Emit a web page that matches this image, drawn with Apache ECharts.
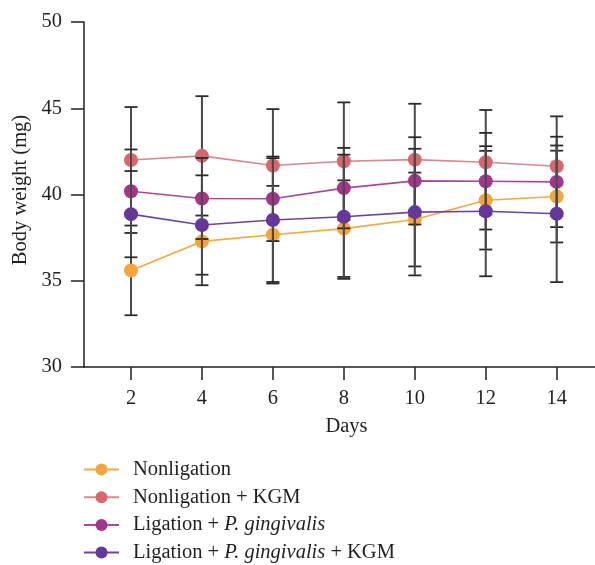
<!DOCTYPE html>
<html>
<head>
<meta charset="utf-8">
<script src="https://cdn.jsdelivr.net/npm/echarts@6/dist/echarts.min.js"></script>
<style>
html,body{margin:0;padding:0;background:#fff;}
#chart{width:595px;height:565px;}
</style>
</head>
<body>
<div id="chart"></div>
<script>
var days = [2, 4, 6, 8, 10, 12, 14];
var seriesNames = ['Nonligation', 'Nonligation + KGM', 'Ligation + P. gingivalis', 'Ligation + P. gingivalis + KGM'];
var nonligationMean = [35.6, 37.28, 37.67, 38.02, 38.55, 39.67, 39.88];
var nonligationSd = [2.6, 2.54, 2.83, 2.8, 2.72, 2.86, 2.66];
var nonligationKgmMean = [42.0, 42.24, 41.68, 41.93, 42.02, 41.87, 41.64];
var nonligationKgmSd = [3.07, 3.46, 3.27, 3.41, 3.24, 3.03, 2.89];
var ligationPgMean = [40.19, 39.77, 39.75, 40.37, 40.79, 40.77, 40.73];
var ligationPgSd = [2.42, 2.35, 2.45, 2.33, 2.53, 2.8, 2.62];
var ligationPgKgmMean = [38.86, 38.23, 38.52, 38.71, 38.98, 39.03, 38.88];
var ligationPgKgmSd = [2.5, 2.88, 3.59, 3.6, 3.67, 3.77, 3.96];
var yTicks = [30, 35, 40, 45, 50];

var means = [nonligationMean, nonligationKgmMean, ligationPgMean, ligationPgKgmMean];
var sds = [nonligationSd, nonligationKgmSd, ligationPgSd, ligationPgKgmSd];
var markerColors = ['#F5A53B', '#D9666D', '#A3358B', '#65379B'];
var lineColors = ['#F5A840', '#D58A8E', '#A8489A', '#6A459F'];

var FONT = '"Liberation Serif", "DejaVu Serif", serif';
var TXT = '#231f20';
var FS = 20.5;
var LFS = 20.5;

var series = [];
means.forEach(function (m, si) {
  var errData = days.map(function (d, i) { return [d, m[i] - sds[si][i], m[i] + sds[si][i]]; });
  series.push({
    type: 'custom',
    name: 'err' + si,
    z: 2 + si * 2,
    silent: true,
    encode: { x: 0, y: [1, 2] },
    data: errData,
    renderItem: function (params, api) {
      var x = api.value(0);
      var lo = api.coord([x, api.value(1)]);
      var hi = api.coord([x, api.value(2)]);
      var hw = 6.5;
      var st = { stroke: '#2b2b2b', lineWidth: 1.8 };
      return {
        type: 'group',
        children: [
          { type: 'line', shape: { x1: lo[0], y1: lo[1], x2: hi[0], y2: hi[1] }, style: { stroke: '#4a4a4a', lineWidth: 2 } },
          { type: 'line', shape: { x1: hi[0] - hw, y1: hi[1], x2: hi[0] + hw, y2: hi[1] }, style: st },
          { type: 'line', shape: { x1: lo[0] - hw, y1: lo[1], x2: lo[0] + hw, y2: lo[1] }, style: st }
        ]
      };
    }
  });
  series.push({
    type: 'line',
    name: seriesNames[si],
    z: 3 + si * 2,
    data: days.map(function (d, i) { return [d, m[i]]; }),
    symbol: 'circle',
    symbolSize: 14,
    showSymbol: true,
    animation: false,
    itemStyle: { color: markerColors[si] },
    lineStyle: { color: lineColors[si], width: 1.6 }
  });
});

var chart = echarts.init(document.getElementById('chart'));
chart.setOption({
  animation: false,
  backgroundColor: '#fff',
  grid: { left: 84, right: 0, top: 22, bottom: 198, containLabel: false },
  xAxis: {
    type: 'value',
    min: 0.675,
    max: 15.08,
    axisLine: { lineStyle: { color: TXT, width: 1.5 } },
    axisTick: { length: 13, lineStyle: { color: TXT, width: 1.5 }, customValues: days },
    axisLabel: { customValues: days, margin: 21, fontFamily: FONT, fontSize: FS, color: TXT },
    splitLine: { show: false }
  },
  yAxis: {
    type: 'value',
    min: yTicks[0],
    max: yTicks[yTicks.length - 1],
    interval: 5,
    axisLine: { show: true, lineStyle: { color: TXT, width: 1.5 } },
    axisTick: { show: true, length: 13, lineStyle: { color: TXT, width: 1.5 } },
    axisLabel: { margin: 22, fontFamily: FONT, fontSize: FS, color: TXT },
    splitLine: { show: false }
  },
  legend: {
    data: seriesNames,
    orient: 'vertical',
    left: 83,
    top: 459,
    height: 140,
    padding: 0,
    itemGap: 6.7,
    itemWidth: 35,
    itemHeight: 15,
    selectedMode: false,
    lineStyle: { width: 2 },
    textStyle: {
      fontFamily: FONT, fontSize: LFS, color: TXT, lineHeight: 20,
      rich: {
        g: { width: 9, fontSize: LFS, lineHeight: 20 },
        n: { fontFamily: FONT, fontSize: LFS, color: TXT, lineHeight: 20 },
        i: { fontFamily: FONT, fontSize: LFS, color: TXT, fontStyle: 'italic', lineHeight: 20 }
      }
    },
    formatter: function (name) {
      var parts = name.split('P. gingivalis');
      if (parts.length === 1) return '{g| }{n|' + name + '}';
      return '{g| }{n|' + parts[0] + '}{i|P. gingivalis}' + (parts[1] ? '{n|' + parts[1] + '}' : '');
    }
  },
  graphic: [
    { type: 'text', x: 21, y: 190, rotation: Math.PI / 2, style: { text: 'Body weight (mg)', fontFamily: FONT, fontSize: FS, fill: TXT, textAlign: 'center', textVerticalAlign: 'middle' } },
    { type: 'text', x: 346.5, y: 427, style: { text: 'Days', fontFamily: FONT, fontSize: FS, fill: TXT, textAlign: 'center', textVerticalAlign: 'middle' } }
  ],
  series: series
});
</script>
</body>
</html>
